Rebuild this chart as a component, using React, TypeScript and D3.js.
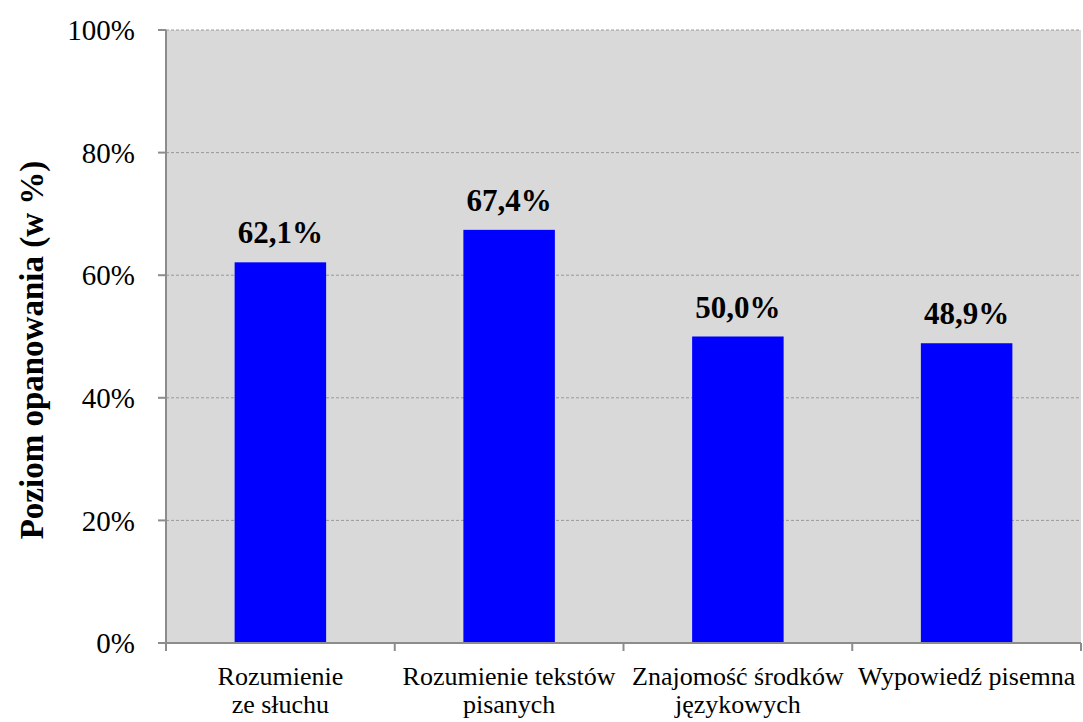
import React from 'react';
import * as d3 from 'd3';

const categories: string[][] = [
    ['Rozumienie', 'ze słuchu'],
    ['Rozumienie tekstów', 'pisanych'],
    ['Znajomość środków', 'językowych'],
    ['Wypowiedź pisemna'],
];
const values = [62.1, 67.4, 50.0, 48.9];
const yTicks = [0, 20, 40, 60, 80, 100];

const W = 1083;
const H = 722;
const plot = { left: 166, right: 1081, top: 30, bottom: 643 };
const font = "'Liberation Serif', 'DejaVu Serif', serif";

const App: React.FC = () => {
    const x = d3.scaleBand<number>()
        .domain(values.map((_, i) => i))
        .range([plot.left, plot.right])
        .paddingInner(0.6)
        .paddingOuter(0.3);
    const step = (plot.right - plot.left) / values.length;

    const y = d3.scaleLinear().domain([0, 100]).range([plot.bottom, plot.top]);

    const fmt = (v: number) => v.toFixed(1).replace('.', ',') + '%';

    return (
        <svg width={W} height={H} style={{ position: 'absolute', left: 0, top: 0, fontFamily: font }}>
            <rect x={plot.left} y={plot.top} width={plot.right - plot.left} height={plot.bottom - plot.top} fill="#d9d9d9" />
            {yTicks.filter(t => t > 0).map(t => (
                <line key={t} x1={plot.left} x2={plot.right} y1={y(t)} y2={y(t)}
                    stroke="#999" strokeWidth={1} strokeDasharray="3,2" />
            ))}
            {values.map((v, i) => (
                <g key={i}>
                    <rect x={x(i)} y={y(v)} width={x.bandwidth()} height={plot.bottom - y(v)} fill="#0000ff" />
                    <text x={x(i)! + x.bandwidth() / 2} y={y(v) - 19} textAnchor="middle"
                        fontSize={31} fontWeight="bold" fill="#000">{fmt(v)}</text>
                </g>
            ))}
            {/* y axis */}
            <line x1={plot.left} x2={plot.left} y1={plot.top} y2={plot.bottom} stroke="#8c8c8c" strokeWidth={2} />
            {yTicks.map(t => (
                <g key={t}>
                    <line x1={plot.left - 8} x2={plot.left} y1={y(t)} y2={y(t)} stroke="#8c8c8c" strokeWidth={2} />
                    <text x={135} y={y(t)} dy="0.35em" textAnchor="end" fontSize={29} fill="#000">{t}%</text>
                </g>
            ))}
            {/* x axis */}
            <line x1={plot.left} x2={plot.right} y1={plot.bottom} y2={plot.bottom} stroke="#8c8c8c" strokeWidth={2} />
            {d3.range(values.length + 1).map(i => (
                <line key={i} x1={plot.left + i * step} x2={plot.left + i * step} y1={plot.bottom} y2={plot.bottom + 8}
                    stroke="#8c8c8c" strokeWidth={2} />
            ))}
            {categories.map((lines, i) => (
                <text key={i} x={x(i)! + x.bandwidth() / 2} y={685} textAnchor="middle" fontSize={26} fill="#000">
                    {lines.map((l, j) => (
                        <tspan key={j} x={x(i)! + x.bandwidth() / 2} dy={j === 0 ? 0 : 28}>{l}</tspan>
                    ))}
                </text>
            ))}
            <text transform={`translate(43, 350) rotate(-90)`} textAnchor="middle"
                fontSize={33} fontWeight="bold" fill="#000">Poziom opanowania (w %)</text>
        </svg>
    );
};

export default App;
